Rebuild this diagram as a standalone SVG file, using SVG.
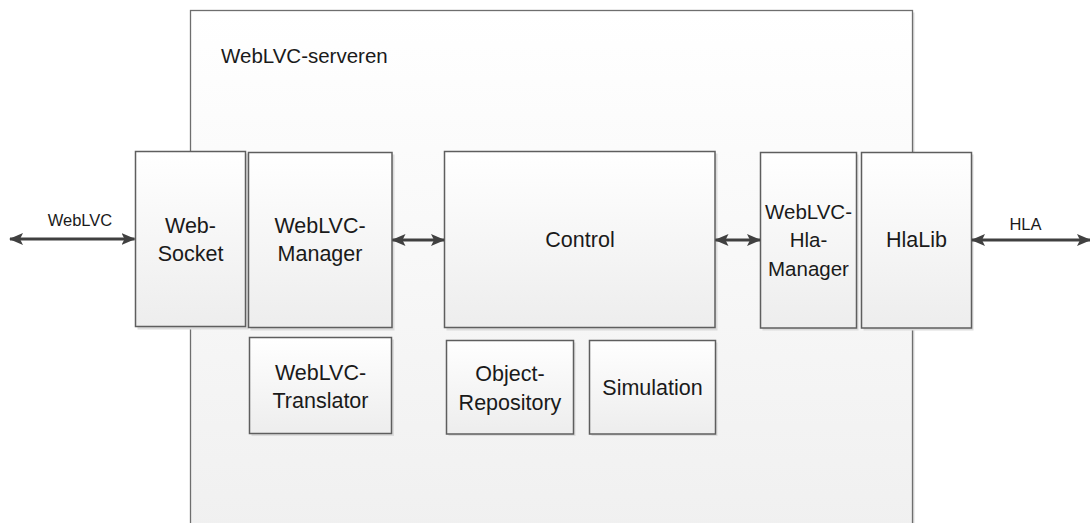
<svg xmlns="http://www.w3.org/2000/svg" width="1090" height="523" viewBox="0 0 1090 523">
  <defs>
    <linearGradient id="outerFill" x1="0" y1="0" x2="0" y2="1">
      <stop offset="0" stop-color="#ffffff"/>
      <stop offset="1" stop-color="#f0f0f0"/>
    </linearGradient>
    <linearGradient id="boxFill" x1="0" y1="0" x2="0" y2="1">
      <stop offset="0" stop-color="#ffffff"/>
      <stop offset="1" stop-color="#ededed"/>
    </linearGradient>
    <marker id="head" viewBox="0 0 14 12" refX="13" refY="6" markerWidth="14" markerHeight="12" markerUnits="userSpaceOnUse" orient="auto-start-reverse">
      <path d="M0,0 L14,6 L0,12 L3,6 Z" fill="#404040"/>
    </marker>
    <style>
      .outer { fill: url(#outerFill); stroke: #6e6e6e; stroke-width: 1.3; }
      .shadow { fill: #dcdcdc; }
      .box { fill: url(#boxFill); stroke: #5e5e5e; stroke-width: 1.5; }
      .lbl { font-family: "Liberation Sans", Arial, sans-serif; font-size: 21.5px; fill: #1a1a1a; text-anchor: middle; }
      .narrow { font-size: 20.5px; }
      .title { font-family: "Liberation Sans", Arial, sans-serif; font-size: 20.5px; fill: #1a1a1a; }
      .edge-lbl { font-family: "Liberation Sans", Arial, sans-serif; font-size: 16.5px; fill: #1a1a1a; text-anchor: middle; }
      .link { stroke: #404040; stroke-width: 3; fill: none; marker-start: url(#head); marker-end: url(#head); }
    </style>
  </defs>

  <rect width="1090" height="523" fill="#ffffff"/>

  <!-- server container -->
  <g id="server">
    <rect x="192.5" y="12.5" width="722" height="520" class="shadow"/>
    <rect x="190.5" y="10.5" width="722" height="520" class="outer"/>
    <text x="221" y="63" class="title">WebLVC-serveren</text>
  </g>

  <g id="websocket">
    <rect x="137.5" y="153.5" width="111" height="176" class="shadow"/>
    <rect x="135.5" y="151.5" width="110" height="175" class="box"/>
    <text x="190.5" y="233" class="lbl">Web-</text>
    <text x="190.5" y="261" class="lbl">Socket</text>
  </g>

  <g id="weblvc-manager">
    <rect x="250.5" y="154.5" width="144" height="176" class="shadow"/>
    <rect x="248.5" y="152.5" width="143.5" height="175" class="box"/>
    <text x="320" y="233" class="lbl">WebLVC-</text>
    <text x="320" y="261" class="lbl">Manager</text>
  </g>

  <g id="control">
    <rect x="446.5" y="153.5" width="271" height="177" class="shadow"/>
    <rect x="444.5" y="151.5" width="270.5" height="176" class="box"/>
    <text x="580" y="247" class="lbl">Control</text>
  </g>

  <g id="weblvc-hla-manager">
    <rect x="762.5" y="154.5" width="96" height="176" class="shadow"/>
    <rect x="760.5" y="152.5" width="96" height="175.5" class="box"/>
    <text x="808.5" y="219" class="lbl narrow">WebLVC-</text>
    <text x="808.5" y="247" class="lbl narrow">Hla-</text>
    <text x="808.5" y="275.5" class="lbl narrow">Manager</text>
  </g>

  <g id="hlalib">
    <rect x="863.5" y="154.5" width="110" height="176" class="shadow"/>
    <rect x="861.5" y="152.5" width="110" height="175.5" class="box"/>
    <text x="916.5" y="247" class="lbl">HlaLib</text>
  </g>

  <g id="weblvc-translator">
    <rect x="251.5" y="339.5" width="142.5" height="96.5" class="shadow"/>
    <rect x="249.5" y="337.5" width="142" height="96" class="box"/>
    <text x="320.5" y="380" class="lbl">WebLVC-</text>
    <text x="320.5" y="408" class="lbl">Translator</text>
  </g>

  <g id="object-repository">
    <rect x="448.5" y="342.5" width="127" height="93.5" class="shadow"/>
    <rect x="446.5" y="340.5" width="127" height="93.5" class="box"/>
    <text x="510" y="381" class="lbl">Object-</text>
    <text x="510" y="409.5" class="lbl">Repository</text>
  </g>

  <g id="simulation">
    <rect x="591.5" y="342.5" width="126" height="93.5" class="shadow"/>
    <rect x="589.5" y="340.5" width="126" height="93.5" class="box"/>
    <text x="652.5" y="395" class="lbl">Simulation</text>
  </g>

  <!-- connectors -->
  <g id="connectors">
    <line x1="10" y1="239" x2="134.5" y2="239" class="link"/>
    <line x1="392.5" y1="240" x2="444" y2="240" class="link"/>
    <line x1="715.5" y1="240" x2="760" y2="240" class="link"/>
    <line x1="972" y1="240" x2="1090" y2="240" class="link"/>
    <text x="80" y="226" class="edge-lbl">WebLVC</text>
    <text x="1025.5" y="230" class="edge-lbl">HLA</text>
  </g>
</svg>
